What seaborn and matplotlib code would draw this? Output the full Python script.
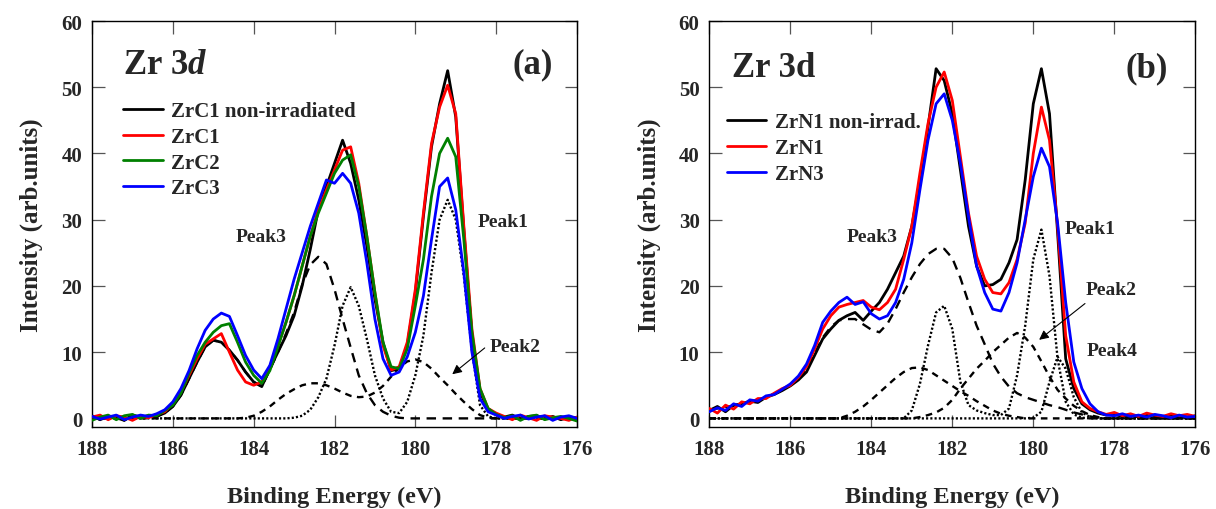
import numpy as np
import pandas as pd
import matplotlib
matplotlib.use("Agg")
import matplotlib.pyplot as plt
import seaborn as sns

# ---------------- data ----------------
energy = [188.0, 187.8, 187.6, 187.4, 187.2, 187.0, 186.8, 186.6, 186.4, 186.2,
          186.0, 185.8, 185.6, 185.4, 185.2, 185.0, 184.8, 184.6, 184.4, 184.2,
          184.0, 183.8, 183.6, 183.4, 183.2, 183.0, 182.8, 182.6, 182.4, 182.2,
          182.0, 181.8, 181.6, 181.4, 181.2, 181.0, 180.8, 180.6, 180.4, 180.2,
          180.0, 179.8, 179.6, 179.4, 179.2, 179.0, 178.8, 178.6, 178.4, 178.2,
          178.0, 177.8, 177.6, 177.4, 177.2, 177.0, 176.8, 176.6, 176.4, 176.2,
          176.0]

# panel (a) spectra
zrc1_nonirr = [0.4, -0.2, 0.3, 0.1, -0.3, 0.5, 0.2, 0.4, 0.3, 0.8,
               1.8, 3.5, 6.0, 8.5, 10.8, 11.8, 11.5, 10.3, 8.8, 7.0,
               5.5, 4.8, 7.5, 10.0, 12.5, 15.5, 20.0, 25.5, 31.5, 35.0,
               38.5, 42.0, 38.5, 33.0, 26.0, 18.0, 11.5, 7.2, 7.5, 11.0,
               19.0, 30.5, 41.0, 47.5, 52.5, 45.5, 28.5, 12.5, 4.0, 1.3,
               0.6, 0.2, 0.5, -0.1, 0.3, 0.4, 0.0, 0.3, -0.2, 0.2,
               0.1]
zrc1 = [0.2, 0.5, -0.2, 0.4, 0.2, -0.3, 0.3, 0.1, 0.6, 1.0,
        2.2, 4.0, 6.5, 9.0, 11.2, 12.0, 12.8, 10.0, 7.3, 5.5,
        5.0, 5.5, 7.8, 11.0, 14.5, 18.5, 23.0, 27.5, 31.5, 34.5,
        37.5, 40.5, 41.0, 35.5, 27.5, 19.0, 11.0, 7.3, 7.8, 11.5,
        19.5, 31.0, 41.5, 47.0, 50.3, 46.0, 29.0, 13.5, 4.5, 1.5,
        0.8, 0.3, -0.2, 0.5, 0.1, -0.3, 0.4, 0.2, 0.0, -0.3,
        0.2]
zrc2 = [-0.3, 0.2, 0.5, -0.2, 0.4, 0.6, 0.0, 0.5, 0.4, 1.2,
        2.0, 3.8, 6.8, 9.5, 11.5, 13.0, 14.0, 14.3, 11.5, 8.5,
        6.5, 5.3, 7.2, 10.8, 14.5, 18.5, 23.0, 27.5, 31.0, 34.0,
        37.0, 39.0, 39.8, 35.0, 27.5, 19.0, 11.5, 7.8, 7.5, 10.5,
        17.0, 24.0, 33.5, 40.0, 42.3, 39.5, 27.0, 13.0, 4.5, 1.5,
        0.6, 0.1, 0.4, -0.3, 0.3, 0.5, -0.2, 0.1, 0.3, 0.0,
        -0.4]
zrc3 = [0.3, -0.1, 0.2, 0.5, -0.2, 0.2, 0.5, 0.3, 0.7, 1.3,
        2.5, 4.5, 7.2, 10.5, 13.3, 15.0, 15.9, 15.4, 12.5, 9.5,
        7.3, 6.0, 8.0, 12.0, 16.5, 21.0, 25.0, 29.0, 32.5, 36.0,
        35.5, 37.0, 35.5, 31.0, 23.5, 15.0, 9.0, 6.5, 7.0, 9.3,
        13.0, 18.5, 27.0, 35.0, 36.3, 31.5, 22.0, 10.0, 3.0, 1.0,
        0.5, 0.0, 0.3, 0.5, -0.1, 0.2, 0.4, -0.3, 0.2, 0.4,
        0.0]

# panel (a) fit components
a_peak1 = [0, 0, 0, 0, 0, 0, 0, 0, 0, 0,
           0, 0, 0, 0, 0, 0, 0, 0, 0, 0,
           0, 0, 0, 0, 0, 0.1, 0.4, 1.3, 3.2, 6.0,
           11.0, 17.0, 19.8, 17.0, 12.0, 6.5, 3.0, 1.0, 0.8, 2.5,
           6.5, 12.5, 22.0, 30.0, 33.0, 30.0, 21.5, 10.3, 2.0, 0.3,
           0, 0, 0, 0, 0, 0, 0, 0, 0, 0,
           0]
a_peak2 = [0, 0, 0, 0, 0, 0, 0, 0, 0, 0,
           0, 0, 0, 0, 0, 0, 0, 0, 0, 0.1,
           0.4, 1.0, 1.8, 2.8, 3.7, 4.4, 5.0, 5.3, 5.3, 5.0,
           4.5, 3.9, 3.4, 3.2, 3.3, 3.9, 4.9, 6.3, 7.7, 8.6,
           8.9, 8.5, 7.5, 6.2, 5.0, 3.7, 2.5, 1.4, 0.5, 0.1,
           0, 0, 0, 0, 0, 0, 0, 0, 0, 0,
           0]
a_peak3 = [0.4, -0.2, 0.3, 0.1, -0.3, 0.5, 0.2, 0.4, 0.3, 0.8,
           1.8, 3.5, 6.0, 8.5, 10.8, 11.8, 11.5, 10.3, 8.8, 7.0,
           5.5, 4.8, 7.3, 10.0, 12.8, 16.0, 20.2, 23.2, 24.4, 23.3,
           19.5, 15.0, 10.7, 6.5, 3.8, 2.0, 1.0, 0.4, 0.1, 0,
           0, 0, 0, 0, 0, 0, 0, 0, 0, 0,
           0, 0, 0, 0, 0, 0, 0, 0, 0, 0,
           0]

# panel (b) spectra
zrn1_nonirr = [1.2, 1.8, 1.0, 2.0, 2.2, 2.6, 2.4, 3.2, 3.6, 4.2,
               4.9, 5.8, 7.0, 9.5, 12.0, 13.5, 14.8, 15.5, 16.0, 14.8,
               16.2, 17.5, 19.5, 22.0, 24.5, 29.0, 36.0, 44.0, 52.8, 51.0,
               46.0, 37.5, 29.0, 23.0, 20.0, 20.2, 21.0, 23.5, 27.0, 36.0,
               47.5, 52.8, 46.0, 28.0, 9.0, 4.5, 2.2, 1.3, 0.8, 0.5,
               0.6, 0.3, 0.5, 0.2, 0.6, 0.4, 0.2, 0.5, 0.3, 0.1,
               0.4]
zrn1 = [1.5, 0.8, 2.0, 1.4, 2.5, 2.2, 3.0, 3.0, 3.8, 4.5,
        5.0, 6.2, 7.8, 10.5, 13.5, 15.5, 16.8, 17.2, 17.5, 17.8,
        16.8, 16.4, 17.5, 19.5, 24.0, 29.0, 37.0, 44.5, 50.0, 52.3,
        48.0, 39.5, 31.0, 24.5, 21.0, 19.0, 18.8, 20.5, 24.0, 29.5,
        40.0, 47.0, 42.0, 29.0, 12.5, 5.5, 2.5, 1.5, 1.0, 0.6,
        0.9, 0.4, 0.7, 0.3, 0.8, 0.5, 0.3, 0.7, 0.4, 0.6,
        0.3]
zrn3 = [1.0, 1.6, 1.2, 2.2, 1.8, 2.8, 2.6, 3.4, 3.6, 4.4,
        5.2, 6.4, 8.2, 11.0, 14.5, 16.2, 17.5, 18.3, 17.2, 17.6,
        15.8, 15.0, 15.5, 17.5, 21.0, 26.5, 34.5, 42.0, 47.5, 49.0,
        45.0, 38.5, 30.5, 23.0, 19.0, 16.5, 16.2, 19.0, 23.5, 30.0,
        36.5, 40.8, 38.0, 29.5, 17.5, 8.5, 4.5, 2.2, 1.0, 0.5,
        0.4, 0.7, 0.3, 0.5, 0.2, 0.6, 0.4, 0.1, 0.5, 0.2,
        0.3]

# panel (b) fit components
b_peak1 = [0, 0, 0, 0, 0, 0, 0, 0, 0, 0,
           0, 0, 0, 0, 0, 0, 0, 0, 0, 0,
           0, 0, 0, 0, 0, 1.2, 5.2, 11.0, 16.0, 17.0,
           13.5, 5.5, 2.0, 1.2, 0.8, 0.5, 0.5, 1.5, 6.5, 14.0,
           24.0, 28.5, 21.5, 9.0, 2.5, 0.6, 0.1, 0, 0, 0,
           0, 0, 0, 0, 0, 0, 0, 0, 0, 0,
           0]
b_peak2 = [0, 0, 0, 0, 0, 0, 0, 0, 0, 0,
           0, 0, 0, 0, 0, 0, 0, 0, 0, 0,
           0, 0, 0, 0, 0, 0, 0.2, 0.5, 0.9, 1.6,
           2.8, 4.5, 6.0, 7.5, 8.7, 10.0, 11.1, 12.2, 12.9, 12.2,
           10.8, 8.6, 6.3, 4.3, 3.0, 1.9, 1.1, 0.5, 0.2, 0,
           0, 0, 0, 0, 0, 0, 0, 0, 0, 0,
           0]
b_peak2_partner = [0, 0, 0, 0, 0, 0, 0, 0, 0, 0,
                   0, 0, 0, 0, 0, 0, 0, 0.4, 1.0, 1.8,
                   2.8, 3.9, 5.0, 6.1, 7.0, 7.6, 7.7, 7.3, 6.5, 5.7,
                   4.9, 4.1, 3.4, 2.6, 1.9, 1.2, 0.7, 0.4, 0.2, 0,
                   0, 0, 0, 0, 0, 0, 0, 0, 0, 0,
                   0, 0, 0, 0, 0, 0, 0, 0, 0, 0,
                   0]
b_peak3 = [1.3, 1.5, 1.7, 1.9, 2.2, 2.5, 2.8, 3.2, 3.7, 4.3,
           5.0, 6.0, 7.5, 9.8, 12.2, 13.8, 14.8, 15.0, 15.0, 14.2,
           13.4, 13.0, 14.3, 16.5, 19.0, 21.3, 23.3, 24.8, 25.6, 25.6,
           24.2, 21.2, 17.5, 14.0, 11.2, 8.3, 6.3, 4.8, 3.8, 3.2,
           2.8, 2.4, 2.0, 1.7, 1.3, 0.9, 0.6, 0.3, 0.1, 0,
           0, 0, 0, 0, 0, 0, 0, 0, 0, 0,
           0]
b_peak4 = [0, 0, 0, 0, 0, 0, 0, 0, 0, 0,
           0, 0, 0, 0, 0, 0, 0, 0, 0, 0,
           0, 0, 0, 0, 0, 0, 0, 0, 0, 0,
           0, 0, 0, 0, 0, 0, 0, 0, 0, 0,
           0.1, 1.0, 5.5, 9.3, 7.5, 3.2, 0.9, 0.2, 0, 0,
           0, 0, 0, 0, 0, 0, 0, 0, 0, 0,
           0]

labels_a = ["ZrC1 non-irradiated", "ZrC1", "ZrC2", "ZrC3"]
labels_b = ["ZrN1 non-irrad.", "ZrN1", "ZrN3"]
xticks = [188, 186, 184, 182, 180, 178, 176]
yticks = [0, 10, 20, 30, 40, 50, 60]

# ---------------- style ----------------
sns.set_style("ticks")
plt.rcParams["font.family"] = ["Liberation Serif", "DejaVu Serif"]
plt.rcParams["font.weight"] = "bold"
plt.rcParams["axes.labelweight"] = "bold"
plt.rcParams["mathtext.fontset"] = "custom"
plt.rcParams["mathtext.rm"] = "Liberation Serif:bold"
plt.rcParams["mathtext.it"] = "Liberation Serif:italic:bold"

fig = plt.figure(figsize=(12.16, 5.10), dpi=100)
ax_a = fig.add_axes([92 / 1216, 82 / 510, 485 / 1216, 406 / 510])
ax_b = fig.add_axes([709.3 / 1216, 82 / 510, 486 / 1216, 406 / 510])

DOT = (0, (0.9, 0.9))
DASH_S = (0, (2.8, 2.3))
DASH_L = (0, (4.0, 2.8))
FIT_LW = 1.7
SPEC_LW = 2.0


def draw_fit(ax, vals, ls):
    sns.lineplot(x=energy, y=vals, ax=ax, color="black", linewidth=FIT_LW,
                 linestyle=ls, estimator=None, sort=False, zorder=2)


def draw_spec(ax, vals, color, label):
    sns.lineplot(x=energy, y=vals, ax=ax, color=color, linewidth=SPEC_LW,
                 estimator=None, sort=False, label=label, zorder=3)


# panel (a)
draw_fit(ax_a, a_peak3, DASH_L)
draw_fit(ax_a, a_peak2, DASH_S)
draw_fit(ax_a, a_peak1, DOT)
for vals, col, lab in zip([zrc1_nonirr, zrc1, zrc2, zrc3],
                          ["#000000", "#ff0000", "#008000", "#0000ff"], labels_a):
    draw_spec(ax_a, vals, col, lab)

# panel (b)
draw_fit(ax_b, b_peak3, DASH_L)
draw_fit(ax_b, b_peak2, DASH_S)
draw_fit(ax_b, b_peak2_partner, DASH_S)
draw_fit(ax_b, b_peak1, DOT)
draw_fit(ax_b, b_peak4, DOT)
for vals, col, lab in zip([zrn1_nonirr, zrn1, zrn3],
                          ["#000000", "#ff0000", "#0000ff"], labels_b):
    draw_spec(ax_b, vals, col, lab)

for ax in (ax_a, ax_b):
    ax.set_xlim(188, 176)
    ax.set_ylim(-1.3, 60)
    ax.set_xticks(xticks)
    ax.set_yticks(yticks)
    ax.set_xticklabels([str(t) for t in xticks])
    ax.set_yticklabels([str(t) for t in yticks])
    ax.tick_params(axis="both", direction="in", top=True, right=True,
                   length=9, width=0.9, labelsize=15, color="#555555")
    ax.tick_params(axis="x", pad=9)
    ax.tick_params(axis="y", pad=7)
    for s in ax.spines.values():
        s.set_linewidth(1.0)
        s.set_color("black")
    ax.set_xlabel("Binding Energy (eV)", fontsize=17.5, labelpad=19)
    ax.set_ylabel("Intensity (arb.units)", fontsize=18, labelpad=13)
    ax.legend(loc="upper left", frameon=False, fontsize=15,
              handlelength=1.9, handletextpad=0.4, labelspacing=0.28,
              borderpad=0, borderaxespad=0)

ax_a.get_legend().set_bbox_to_anchor((0.064, 0.803), transform=ax_a.transAxes)
ax_b.get_legend().set_bbox_to_anchor((0.036, 0.775), transform=ax_b.transAxes)

# annotations panel (a)
ax_a.text(187.23, 53.5, r"Zr 3$\mathit{d}$", fontsize=25, ha="left", va="center")
ax_a.text(177.09, 53.5, "(a)", fontsize=25, ha="center", va="center")
ax_a.text(183.82, 27.4, "Peak3", fontsize=14, ha="center", va="center")
ax_a.text(177.83, 29.8, "Peak1", fontsize=14, ha="center", va="center")
ax_a.text(177.53, 10.9, "Peak2", fontsize=14, ha="center", va="center")
ax_a.annotate("", xy=(179.14, 6.4), xytext=(178.23, 10.9),
              arrowprops=dict(arrowstyle="-|>", color="black", lw=0.8,
                              mutation_scale=14))

# annotations panel (b)
ax_b.text(187.44, 53.0, "Zr 3d", fontsize=25, ha="left", va="center")
ax_b.text(177.19, 53.0, "(b)", fontsize=25, ha="center", va="center")
ax_b.text(183.98, 27.4, "Peak3", fontsize=14, ha="center", va="center")
ax_b.text(178.60, 28.6, "Peak1", fontsize=14, ha="center", va="center")
ax_b.text(178.08, 19.5, "Peak2", fontsize=14, ha="center", va="center")
ax_b.text(178.06, 10.2, "Peak4", fontsize=14, ha="center", va="center")
ax_b.annotate("", xy=(179.91, 11.6), xytext=(178.67, 17.6),
              arrowprops=dict(arrowstyle="-|>", color="black", lw=0.8,
                              mutation_scale=14))

fig.savefig("out.png", dpi=100)
